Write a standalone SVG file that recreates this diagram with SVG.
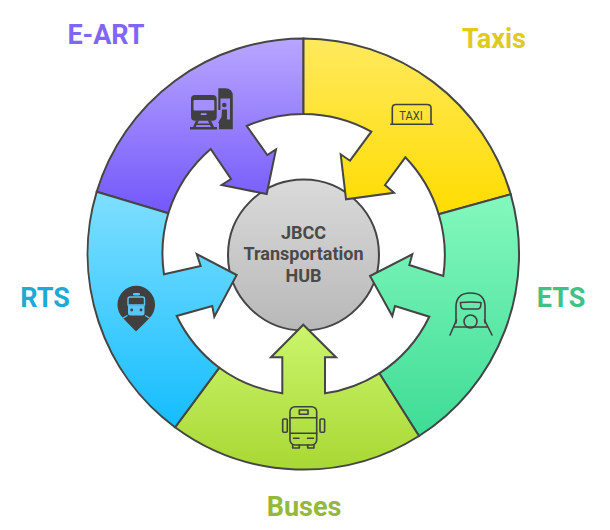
<svg xmlns="http://www.w3.org/2000/svg" width="610" height="530" viewBox="0 0 610 530">
<style>
.seg{stroke:#454545;stroke-width:2;stroke-linejoin:miter}
.lab{font-family:Roboto,"Liberation Sans",sans-serif;font-weight:700;font-size:27px;text-anchor:middle}
.hub{font-family:Roboto,"Liberation Sans",sans-serif;font-weight:700;font-size:18px;text-anchor:middle;fill:#4a4a4a}
.ln{fill:none;stroke:#404040;stroke-width:1.6;stroke-linejoin:round;stroke-linecap:round}
.sol{fill:#404040}
</style>
<defs>
<linearGradient id="gA" x1="0" y1="0" x2="0" y2="1"><stop offset="0" stop-color="#b8a6ff"/><stop offset="1" stop-color="#7457fb"/></linearGradient>
<linearGradient id="gT" x1="0" y1="0" x2="0" y2="1"><stop offset="0" stop-color="#ffe95e"/><stop offset="1" stop-color="#ffdc00"/></linearGradient>
<linearGradient id="gE" x1="0" y1="0" x2="0" y2="1"><stop offset="0" stop-color="#84f8bd"/><stop offset="1" stop-color="#3edc96"/></linearGradient>
<linearGradient id="gB" x1="0" y1="0" x2="0" y2="1"><stop offset="0" stop-color="#cbf56c"/><stop offset="1" stop-color="#a8d834"/></linearGradient>
<linearGradient id="gR" x1="0" y1="0" x2="0" y2="1"><stop offset="0" stop-color="#7fdfff"/><stop offset="1" stop-color="#14bdff"/></linearGradient>
<linearGradient id="gH" x1="0" y1="0" x2="0" y2="1"><stop offset="0" stop-color="#dadada"/><stop offset="1" stop-color="#b8b8b8"/></linearGradient>
</defs>
<g id="hub">
<circle cx="303.500" cy="255" r="75.500" fill="url(#gH)" stroke="#454545" stroke-width="2"/>
<text class="hub" x="303.500" y="238.500">JBCC</text>
<text class="hub" x="303.500" y="259.700">Transportation</text>
<text class="hub" x="303.500" y="281.500">HUB</text>
</g>
<g id="connectors">
<g id="seg-eart"><path class="seg" fill="url(#gA)" d="M96.700 191.700A216 216 0 0 1 303.500 38.500V114A140.500 140.500 0 0 0 246.700 126L267.300 155L276 149.300L266.700 194L221.700 185L231 179L210.700 149A140.500 140.500 0 0 0 168.300 213.300Z"/></g>
<g id="seg-taxis"><path class="seg" fill="url(#gT)" d="M303.500 38.500A216 216 0 0 1 510.700 194.300L438.700 214.300A140.500 140.500 0 0 0 405.300 157.300L385 185L394 192.700L346 199.300L340.700 154.300L350 160.700L371.300 131.700A140.500 140.500 0 0 0 303.500 114Z"/></g>
<g id="seg-ets"><path class="seg" fill="url(#gE)" d="M510.700 194.300A216 216 0 0 1 419 436L379.300 373.300A140.500 140.500 0 0 0 429.300 316.700L395 306L392.300 316L370 276L412.300 254.300L409.300 265L443.300 276A140.500 140.500 0 0 0 438.700 214.300Z"/></g>
<g id="seg-buses"><path class="seg" fill="url(#gB)" d="M419 436A216 216 0 0 1 175 427.300L219.300 367.700A140.500 140.500 0 0 0 282.300 393.300V357.300H271L303.300 324.700L336 357.300H325V393.300A140.500 140.500 0 0 0 379.300 373.300Z"/></g>
<g id="seg-rts"><path class="seg" fill="url(#gR)" d="M175 427.300A216 216 0 0 1 96.700 191.700L168.300 213.300A140.500 140.500 0 0 0 164 274.300L200.700 266L196.700 254L236.700 275L214.300 316.700L212.300 306L176.700 316A140.500 140.500 0 0 0 219.300 367.700Z"/></g>
</g>
<g id="node-eart">
<text class="lab" x="106" y="43.500" fill="#7f66f5">E-ART</text>
<rect class="sol" x="191" y="95" width="25.700" height="25.700" rx="4"/>
<rect x="193.500" y="100" width="20.800" height="10.500" rx="1" fill="#a48fff"/>
<rect x="200.700" y="113.300" width="6" height="1.800" rx="0.900" fill="#a48fff"/>
<path class="sol" d="M196 120.500H199L197.300 123.500H209.300L207.700 120.500H211L214 127H217V129.500H190V127H193ZM196.600 125L195.800 127H210.900L210 125Z" fill-rule="evenodd"/>
<path class="sol" d="M218.300 88.300H225Q232.800 88.300 232.800 96V129.300H219V122L221 118V110H218.300V98Z"/>
<rect x="220.500" y="98.500" width="9.500" height="21" fill="#9a82fe"/>
<circle class="sol" cx="224.300" cy="105" r="2.300"/>
<path class="sol" d="M222 109.500H227V120H230V123H218L221.500 117Z"/>
</g>
<g id="node-taxis">
<text class="lab" x="494" y="48" fill="#dfca1e">Taxis</text>
<path class="ln" d="M392.300 124V108Q392.300 104.500 396 104.500H427Q431 104.500 431 108V124M390.800 124.300H432.700"/>
<text x="411" y="119.500" font-family="Roboto,'Liberation Sans',sans-serif" font-size="13" font-weight="400" textLength="23.500" lengthAdjust="spacingAndGlyphs" text-anchor="middle" fill="#404040">TAXI</text>
</g>
<g id="node-ets">
<text class="lab" x="561" y="307" fill="#3fc285">ETS</text>
<path class="ln" d="M456 323V307Q456 293 470.500 293Q485 293 485 307V323"/>
<path class="ln" d="M460.500 302.500Q470.500 301.500 481 302.500Q481 309 478 309H463.500Q460.500 309 460.500 302.500Z"/>
<circle class="ln" cx="470.500" cy="321.500" r="6.500"/>
<path class="ln" d="M456.500 320L450 335M484.500 320L492 335M453.500 327H488"/>
</g>
<g id="node-buses">
<text class="lab" x="304" y="516" fill="#94b93a">Buses</text>
<rect class="ln" x="290" y="406.700" width="26.700" height="38.300" rx="5"/>
<path class="ln" d="M290 417.700H316.700M290 433.300H316.700M293.500 438.300H299M307.500 438.300H313.500"/>
<rect class="ln" x="299.300" y="410" width="8.700" height="4.300"/>
<rect class="ln" x="282.700" y="419" width="4.600" height="13.300" rx="1"/>
<rect class="ln" x="320" y="419" width="4.600" height="13.300" rx="1"/>
<path class="ln" d="M292.700 445V448H299.300V445M307.700 445V448H314V445"/>
</g>
<g id="node-rts">
<text class="lab" x="45" y="307" fill="#1fa9d6">RTS</text>
<path class="sol" d="M123 318A18.800 18.800 0 1 1 149.500 318L145.700 322L136 331.500L126.700 322Z"/>
<path d="M123 318L127.500 315.500M149.500 318L145 315.500" stroke="#55c9fb" stroke-width="1.200" fill="none"/>
<rect x="133" y="293" width="7" height="2.600" rx="1.300" fill="#5bc6f5"/>
<path d="M130 297H142.500Q144.500 297 144.500 299V305H128V299Q128 297 130 297Z" fill="#404040" stroke="#5bc6f5" stroke-width="1.400"/>
<path d="M128 305.500H144.500V313Q144.500 315.500 142 315.500H130.500Q128 315.500 128 313Z" fill="#5bc6f5"/>
<circle class="sol" cx="131.700" cy="310" r="1.400"/>
<circle class="sol" cx="141" cy="310" r="1.400"/>
</g>
</svg>
